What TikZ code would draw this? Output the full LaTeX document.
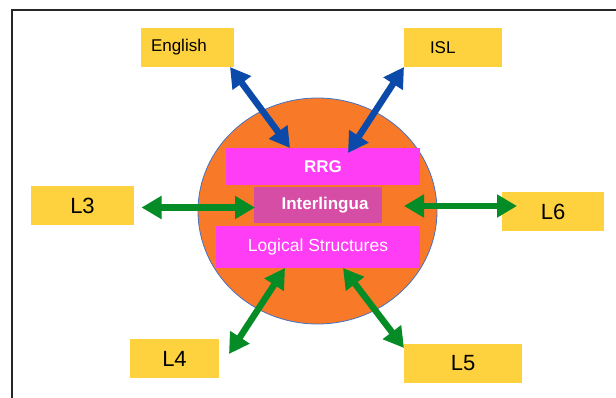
\documentclass[tikz,border=0pt]{standalone}
\usepackage{fontspec}
\setmainfont{Liberation Sans}
\usetikzlibrary{arrows.meta,shapes.geometric}
\definecolor{yel}{HTML}{FED23F}
\definecolor{org}{HTML}{F87A28}
\definecolor{mag}{HTML}{FF3DF5}
\definecolor{ilg}{HTML}{D64DA5}
\definecolor{blu}{HTML}{0B4AA8}
\definecolor{grn}{HTML}{068C27}
\definecolor{rim}{HTML}{4472C4}
\tikzset{
  ybox/.style={fill=yel, draw=none, inner sep=0pt, minimum height=39pt},
  pbox/.style={fill=mag, draw=none, inner sep=0pt, text=white},
  smallfont/.style={font=\fontsize{17}{17}\selectfont},
  bigfont/.style={font=\fontsize{22}{22}\selectfont},
  bluearrow/.style={draw=blu, line width=6.5pt, {Triangle[width=22pt,length=20pt]}-{Triangle[width=22pt,length=20pt]}},
  greenarrow/.style={draw=grn, line width=6.5pt, {Triangle[width=22pt,length=20pt]}-{Triangle[width=22pt,length=20pt]}}
}
\begin{document}
\begin{tikzpicture}[x=1pt,y=-1pt]
\useasboundingbox (0,0) rectangle (616,398);
% frame
\draw[line width=2pt, black!85] (620,10) -- (12,10) -- (12,402);
% central ellipse
\node[ellipse, draw=rim, line width=0.8pt, fill=org, minimum width=239pt, minimum height=226pt, inner sep=0pt] (core) at (317.5,211) {};
% pink boxes
\node[pbox, minimum width=194pt, minimum height=37pt, font=\bfseries\fontsize{17}{17}\selectfont] (rrg) at (323,166.5) {RRG};
\node[pbox, fill=ilg, minimum width=128pt, minimum height=36pt, font=\bfseries\fontsize{17}{17}\selectfont] (inter) at (318,205) {\hspace*{14pt}Interlingua};
\node[pbox, minimum width=204pt, minimum height=42pt, font=\fontsize{17.5}{17.5}\selectfont] (logic) at (318,247) {Logical Structures};
% yellow boxes
\node[ybox, smallfont, text width=73pt, align=left, inner xsep=10pt] (eng) at (187.5,47.5) {English};
\node[ybox, smallfont, text width=46pt, align=left, inner xsep=26pt] (isl) at (453,47.5) {ISL};
\node[ybox, bigfont, minimum width=103pt] (l3) at (82.5,205.5) {L3};
\node[ybox, bigfont, minimum width=102pt] (l6) at (553,211.5) {L6};
\node[ybox, bigfont, minimum width=89pt] (l4) at (174.5,358.5) {L4};
\node[ybox, bigfont, minimum width=118pt] (l5) at (463,363.5) {L5};
% arrow end points
\coordinate (engA) at (230,67);
\coordinate (engB) at (290,148);
\coordinate (islA) at (404,67);
\coordinate (islB) at (348,153);
\coordinate (l3A) at (141.5,207.5);
\coordinate (l3B) at (255,207.5);
\coordinate (l6A) at (404,206);
\coordinate (l6B) at (517,206);
\coordinate (l4A) at (285,268);
\coordinate (l4B) at (229,354);
\coordinate (l5A) at (343,268);
\coordinate (l5B) at (404,348);
% arrows
\draw[bluearrow] (engA) -- (engB);
\draw[bluearrow] (islA) -- (islB);
\draw[greenarrow] (l3A) -- (l3B);
\draw[greenarrow] (l6A) -- (l6B);
\draw[greenarrow] (l4A) -- (l4B);
\draw[greenarrow] (l5A) -- (l5B);
\end{tikzpicture}
\end{document}
